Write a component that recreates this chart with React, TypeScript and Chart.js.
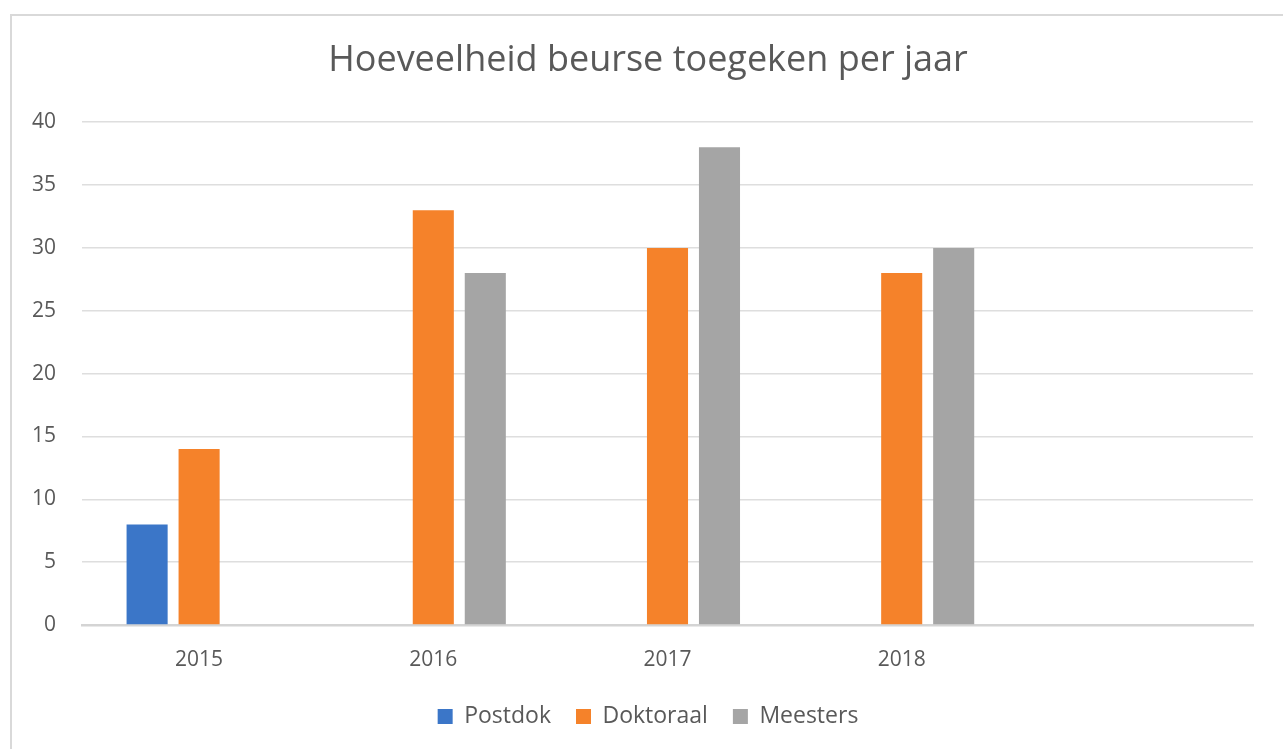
import React, { useEffect, useRef } from "react";
import { Chart, registerables } from "chart.js";

Chart.register(...registerables);

const categories = ["2015", "2016", "2017", "2018", ""];
const postdok = [8, null, null, null, null];
const doktoraal = [14, 33, 30, 28, null];
const meesters = [null, 28, 38, 30, null];
const yTicks = [0, 5, 10, 15, 20, 25, 30, 35, 40];

const FONT = "'Open Sans', sans-serif";
const TEXT = "#595959";

const framePlugin = {
  id: "frame",
  afterLayout(chart: any) {
    // let the y tick labels use the space left of the axis box
    if (chart.scales.y) chart.scales.y.left = 0;
  },
  beforeDraw(chart: any) {
    const ctx = chart.ctx;
    ctx.save();
    ctx.fillStyle = "#ffffff";
    ctx.fillRect(0, 0, chart.width, chart.height);
    ctx.strokeStyle = "#d9d9d9";
    ctx.lineWidth = 2;
    ctx.beginPath();
    ctx.moveTo(11, chart.height);
    ctx.lineTo(11, 15);
    ctx.lineTo(chart.width, 15);
    ctx.stroke();
    ctx.restore();
  },
};

export default function App() {
  const ref = useRef<HTMLCanvasElement | null>(null);
  useEffect(() => {
    if (!ref.current) return;
    const chart = new Chart(ref.current, {
      type: "bar",
      data: {
        labels: categories,
        datasets: [
          { label: "Postdok", data: postdok, backgroundColor: "#3B76C8" },
          { label: "Doktoraal", data: doktoraal, backgroundColor: "#F5822A" },
          { label: "Meesters", data: meesters, backgroundColor: "#A5A5A5" },
        ],
      },
      options: {
        animation: false,
        responsive: false,
        maintainAspectRatio: false,
        layout: { padding: { left: 43, right: 30, top: 0, bottom: 11 } },
        datasets: {
          bar: { categoryPercentage: 0.666, barPercentage: 0.79 },
        },
        plugins: {
          title: {
            display: true,
            text: "Hoeveelheid beurse toegeken per jaar",
            color: TEXT,
            font: { family: FONT, size: 36, weight: "normal" },
            padding: { top: 39, bottom: 40 },
          },
          legend: {
            position: "bottom",
            labels: {
              color: TEXT,
              font: { family: FONT, size: 23 },
              boxWidth: 15,
              boxHeight: 15,
              padding: 25,
            },
          },
          tooltip: { enabled: false },
        },
        scales: {
          x: {
            grid: { display: false, drawTicks: false },
            border: { display: true, color: "#d4d4d4", width: 2.5 },
            ticks: { color: TEXT, font: { family: FONT, size: 21 }, padding: 22 },
            afterFit: (s: any) => {
              s.height = 55;
            },
          },
          y: {
            min: 0,
            max: 40,
            afterBuildTicks: (s: any) => {
              s.ticks = yTicks.map((v) => ({ value: v }));
            },
            grid: { color: "#dedede", lineWidth: 1.5, drawTicks: false },
            border: { display: false },
            ticks: { color: TEXT, font: { family: FONT, size: 21 }, padding: 26 },
            afterFit: (s: any) => {
              s.width = 39;
            },
          },
        },
      },
      plugins: [framePlugin],
    });
    return () => chart.destroy();
  }, []);
  return (
    <div style={{ position: "fixed", left: 0, top: 0, width: 1283, height: 749, overflow: "hidden" }}>
      <canvas ref={ref} width={1283} height={749} style={{ display: "block" }} />
    </div>
  );
}
